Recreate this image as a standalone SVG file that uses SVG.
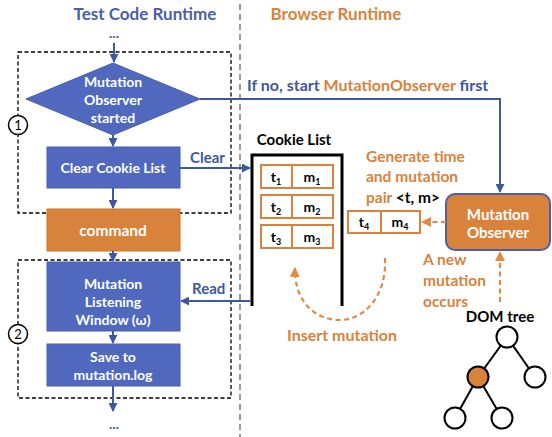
<svg xmlns="http://www.w3.org/2000/svg" width="552" height="437" viewBox="0 0 552 437">
<defs>
<style>
text{font-family:Lato,"Liberation Sans",sans-serif;font-weight:bold}
.h{font-size:17px}
.w{fill:#fff;font-size:14px;text-anchor:middle}
.bl{fill:#3f57a0;font-size:15px}
.or{fill:#d9823b;font-size:15.5px}
.k{fill:#000;font-size:15px}
.c{fill:#000;font-size:14px;text-anchor:middle}
.box{fill:#5069bf;stroke:#4a5fa8;stroke-width:1}
.cell{fill:#fff;stroke:#d9823b;stroke-width:2}
.dash{fill:none;stroke:#000;stroke-width:1.3;stroke-dasharray:4 2.5}
.con{fill:none;stroke:#3f57a0;stroke-width:2}
.ocon{fill:none;stroke:#e08a45;stroke-width:2.2;stroke-dasharray:5 3.5}
.tree{fill:#fff;stroke:#000;stroke-width:2}
</style>
<marker id="ab" viewBox="0 0 10 10" refX="9" refY="5" markerWidth="4.5" markerHeight="4.5" orient="auto"><path d="M0,0 L10,5 L0,10 z" fill="#3f57a0"/></marker>
<marker id="ao" viewBox="0 0 10 10" refX="9" refY="5" markerWidth="4.5" markerHeight="4.5" orient="auto"><path d="M0,0 L10,5 L0,10 z" fill="#e08a45"/></marker>
</defs>
<rect width="552" height="437" fill="#fff"/>

<line x1="240" y1="4" x2="240" y2="437" stroke="#9a9a9a" stroke-width="2" stroke-dasharray="6 4"/>

<g id="titles">
<text class="h" x="145" y="20" text-anchor="middle" fill="#4a5fa8">Test Code Runtime</text>
<text class="h" x="336" y="20" text-anchor="middle" fill="#d9823b">Browser Runtime</text>
<text x="114" y="38" text-anchor="middle" font-size="14" fill="#3f57a0">...</text>
<text x="114" y="429" text-anchor="middle" font-size="14" fill="#3f57a0">...</text>
</g>

<g id="group1">
<rect class="dash" x="18" y="52" width="213" height="161"/>
<circle cx="18" cy="125" r="9.5" fill="#fff" stroke="#000" stroke-width="1.5"/>
<text x="18" y="130" text-anchor="middle" font-size="13" style="font-weight:normal">1</text>
</g>
<g id="group2">
<rect class="dash" x="18" y="260" width="213" height="138"/>
<circle cx="18" cy="334" r="9.5" fill="#fff" stroke="#000" stroke-width="1.5"/>
<text x="18" y="339" text-anchor="middle" font-size="13" style="font-weight:normal">2</text>
</g>

<g id="diamond">
<polygon class="box" points="113,63 200,99 113,135 26,99"/>
<text class="w" x="113" y="87">Mutation</text>
<text class="w" x="113" y="105">Observer</text>
<text class="w" x="113" y="123">started</text>
</g>
<g id="clear">
<rect class="box" x="47" y="147" width="133" height="41"/>
<text class="w" x="113" y="173">Clear Cookie List</text>
</g>
<g id="command">
<rect x="47" y="209" width="133" height="42" fill="#d9823b" stroke="#c8762f" stroke-width="1"/>
<text class="w" x="113" y="236" style="font-size:15.5px">command</text>
</g>
<g id="listen">
<rect class="box" x="47" y="262" width="133" height="69"/>
<text class="w" x="113" y="289">Mutation</text>
<text class="w" x="113" y="307">Listening</text>
<text class="w" x="113" y="325">Window (ω)</text>
</g>
<g id="save">
<rect class="box" x="47" y="344" width="133" height="42"/>
<text class="w" x="113" y="362">Save to</text>
<text class="w" x="113" y="380">mutation.log</text>
</g>

<g id="cookielist">
<text class="k" x="294" y="145" text-anchor="middle">Cookie List</text>
<path d="M252,306 V155 H342 V306" fill="none" stroke="#000" stroke-width="3"/>
<rect class="cell" x="261" y="165" width="72" height="23"/>
<line x1="292" y1="165" x2="292" y2="188" stroke="#d9823b" stroke-width="2"/>
<text class="c" x="276" y="182">t<tspan font-size="9" dy="3">1</tspan></text>
<text class="c" x="312" y="182">m<tspan font-size="9" dy="3">1</tspan></text>
<rect class="cell" x="261" y="195" width="72" height="23"/>
<line x1="292" y1="195" x2="292" y2="218" stroke="#d9823b" stroke-width="2"/>
<text class="c" x="276" y="212">t<tspan font-size="9" dy="3">2</tspan></text>
<text class="c" x="312" y="212">m<tspan font-size="9" dy="3">2</tspan></text>
<rect class="cell" x="261" y="225" width="72" height="23"/>
<line x1="292" y1="225" x2="292" y2="248" stroke="#d9823b" stroke-width="2"/>
<text class="c" x="276" y="242">t<tspan font-size="9" dy="3">3</tspan></text>
<text class="c" x="312" y="242">m<tspan font-size="9" dy="3">3</tspan></text>
</g>

<g id="newpair">
<rect class="cell" x="348" y="211" width="72" height="22"/>
<line x1="381" y1="211" x2="381" y2="233" stroke="#d9823b" stroke-width="2"/>
<text class="c" x="364" y="227">t<tspan font-size="9" dy="3">4</tspan></text>
<text class="c" x="400" y="227">m<tspan font-size="9" dy="3">4</tspan></text>
<text class="or" x="366" y="162">Generate time</text>
<text class="or" x="366" y="182">and mutation</text>
<text class="or" x="366" y="203">pair <tspan fill="#000">&lt;t, m&gt;</tspan></text>
</g>

<g id="observer">
<rect x="446" y="194" width="104" height="56" rx="9" fill="#d9823b" stroke="#4a5fa8" stroke-width="2"/>
<text class="w" x="498" y="220" style="font-size:15px">Mutation</text>
<text class="w" x="498" y="238" style="font-size:15px">Observer</text>
</g>

<g id="domtree">
<text class="k" x="500" y="322" text-anchor="middle">DOM tree</text>
<line x1="507" y1="337" x2="478" y2="377" stroke="#000" stroke-width="2"/>
<line x1="507" y1="337" x2="535" y2="377" stroke="#000" stroke-width="2"/>
<line x1="478" y1="377" x2="455" y2="418" stroke="#000" stroke-width="2"/>
<line x1="478" y1="377" x2="502" y2="418" stroke="#000" stroke-width="2"/>
<circle class="tree" cx="507" cy="337" r="10.5"/>
<circle cx="478" cy="377" r="10.5" fill="#d9823b" stroke="#000" stroke-width="2"/>
<circle class="tree" cx="535" cy="377" r="10.5"/>
<circle class="tree" cx="455" cy="418" r="10.5"/>
<circle class="tree" cx="502" cy="418" r="10.5"/>
</g>

<g id="labels">
<text class="bl" x="190" y="163">Clear</text>
<text class="bl" x="192" y="294">Read</text>
<text class="bl" x="247" y="91" style="font-size:16px">If no, start <tspan fill="#d9823b">MutationObserver</tspan> first</text>
<text class="or" x="423" y="265">A new</text>
<text class="or" x="423" y="286">mutation</text>
<text class="or" x="423" y="307">occurs</text>
<text class="or" x="342" y="341" text-anchor="middle" style="font-size:16px">Insert mutation</text>
</g>

<g id="connectors">
<line class="con" x1="114" y1="43" x2="114" y2="62" marker-end="url(#ab)"/>
<line class="con" x1="113" y1="135" x2="113" y2="146" marker-end="url(#ab)"/>
<line class="con" x1="113" y1="188" x2="113" y2="208" marker-end="url(#ab)"/>
<line class="con" x1="113" y1="251" x2="113" y2="261" marker-end="url(#ab)"/>
<line class="con" x1="113" y1="331" x2="113" y2="343" marker-end="url(#ab)"/>
<line class="con" x1="113" y1="386" x2="113" y2="411" marker-end="url(#ab)"/>
<line class="con" x1="180" y1="168" x2="250" y2="168" marker-end="url(#ab)"/>
<line class="con" x1="250" y1="301" x2="181" y2="301" marker-end="url(#ab)"/>
<path class="con" d="M200,99 H500 V192" marker-end="url(#ab)"/>
<line class="ocon" x1="446" y1="222" x2="422" y2="222" marker-end="url(#ao)"/>
<line class="ocon" x1="500" y1="302" x2="500" y2="252" marker-end="url(#ao)"/>
<path class="ocon" d="M385,258 C387,295 365,320 340,320 C312,320 294,298 295,268" marker-end="url(#ao)"/>
</g>
</svg>
